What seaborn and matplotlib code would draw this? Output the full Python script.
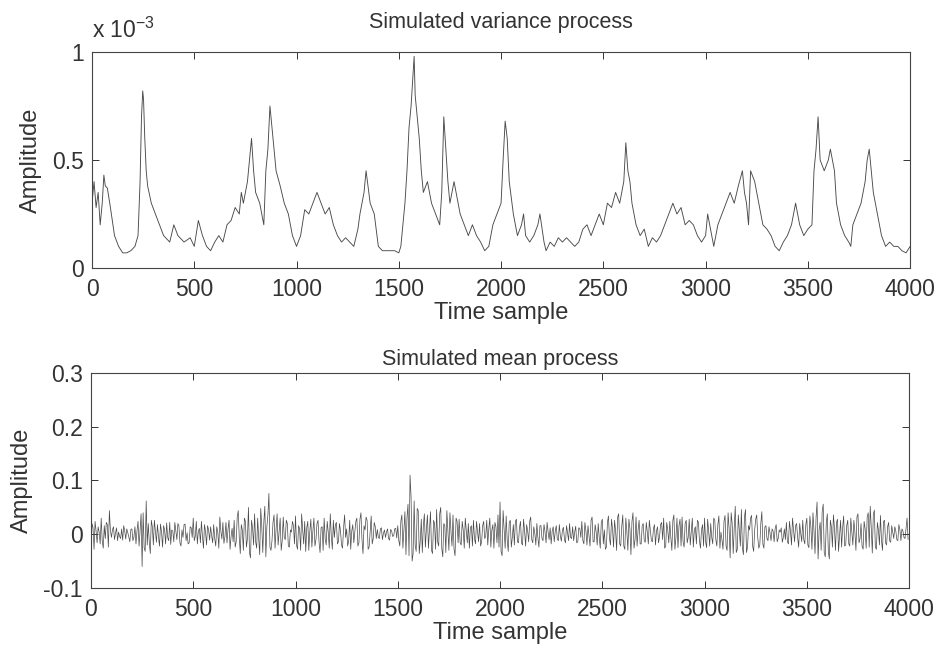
import numpy as np
import pandas as pd
import matplotlib
matplotlib.use("Agg")
import matplotlib.pyplot as plt
import seaborn as sns

# ---- variance process (units of 1e-3), key samples ----
var_t = [0, 10, 20, 30, 40, 50, 58, 65, 75, 90, 110, 130, 150, 170, 190, 210, 225, 235, 242, 248,
         252, 258, 265, 272, 290, 310, 330, 350, 380, 400, 420, 450, 480, 500, 520, 540, 560, 580,
         600, 620, 640, 660, 680, 700, 720, 730, 740, 760, 770, 780, 790, 800, 820, 840, 850, 860,
         870, 880, 890, 900, 920, 940, 960, 980, 1000, 1020, 1040, 1060, 1080, 1100, 1120, 1140,
         1160, 1180, 1200, 1220, 1240, 1260, 1280, 1300, 1310, 1330, 1340, 1360, 1380, 1400, 1420,
         1450, 1480, 1500, 1510, 1520, 1530, 1540, 1550, 1560, 1575, 1580, 1590, 1600, 1610, 1620,
         1640, 1660, 1680, 1700, 1710, 1720, 1730, 1740, 1750, 1760, 1770, 1790, 1800, 1820, 1840,
         1860, 1880, 1900, 1920, 1940, 1960, 1980, 2000, 2010, 2020, 2030, 2040, 2060, 2080, 2100,
         2110, 2120, 2140, 2160, 2180, 2190, 2210, 2220, 2240, 2260, 2280, 2300, 2320, 2340, 2360,
         2380, 2400, 2420, 2440, 2460, 2480, 2500, 2520, 2540, 2560, 2580, 2600, 2610, 2620, 2630,
         2640, 2660, 2680, 2700, 2720, 2740, 2760, 2780, 2800, 2820, 2840, 2860, 2880, 2900, 2920,
         2940, 2960, 2980, 3000, 3010, 3030, 3040, 3060, 3080, 3100, 3120, 3140, 3160, 3180, 3190,
         3200, 3210, 3220, 3240, 3260, 3280, 3300, 3320, 3340, 3360, 3380, 3400, 3420, 3440, 3460,
         3480, 3500, 3520, 3530, 3540, 3550, 3560, 3580, 3600, 3610, 3630, 3640, 3660, 3680, 3700,
         3710, 3720, 3740, 3760, 3780, 3790, 3800, 3810, 3820, 3840, 3860, 3880, 3900, 3920, 3940,
         3960, 3980, 4000]
var_e3 = [0.30, 0.40, 0.28, 0.35, 0.20, 0.30, 0.43, 0.38, 0.37, 0.28, 0.15, 0.10, 0.07, 0.07, 0.08, 0.10, 0.15, 0.40, 0.70, 0.82,
          0.78, 0.60, 0.45, 0.38, 0.30, 0.25, 0.20, 0.15, 0.12, 0.20, 0.15, 0.12, 0.14, 0.10, 0.22, 0.15, 0.10, 0.08,
          0.12, 0.15, 0.12, 0.20, 0.22, 0.28, 0.25, 0.35, 0.30, 0.40, 0.50, 0.60, 0.45, 0.35, 0.30, 0.20, 0.45, 0.55,
          0.75, 0.65, 0.55, 0.45, 0.38, 0.30, 0.25, 0.15, 0.10, 0.15, 0.27, 0.25, 0.30, 0.35, 0.30, 0.25,
          0.28, 0.20, 0.15, 0.12, 0.14, 0.12, 0.10, 0.18, 0.25, 0.35, 0.45, 0.30, 0.25, 0.10, 0.08,
          0.08, 0.08, 0.07, 0.10, 0.20, 0.30, 0.45, 0.65, 0.75, 0.98, 0.80, 0.70, 0.60, 0.45, 0.35,
          0.40, 0.30, 0.25, 0.20, 0.35, 0.70, 0.55, 0.40, 0.30, 0.35, 0.40, 0.30, 0.25, 0.20, 0.15,
          0.20, 0.15, 0.12, 0.08, 0.10, 0.20, 0.25, 0.30, 0.50, 0.68, 0.60, 0.40, 0.25, 0.15, 0.20,
          0.25, 0.15, 0.12, 0.15, 0.20, 0.25, 0.12, 0.08, 0.12, 0.10, 0.14, 0.12, 0.14, 0.12, 0.10,
          0.12, 0.18, 0.20, 0.15, 0.20, 0.25, 0.20, 0.30, 0.28, 0.35, 0.30, 0.40, 0.58, 0.45, 0.40,
          0.30, 0.20, 0.15, 0.18, 0.10, 0.14, 0.12, 0.15, 0.20, 0.25, 0.30, 0.25, 0.28, 0.20, 0.22,
          0.20, 0.15, 0.12, 0.15, 0.25, 0.15, 0.10, 0.20, 0.25, 0.30, 0.35, 0.30, 0.38, 0.45, 0.35,
          0.30, 0.20, 0.45, 0.40, 0.30, 0.20, 0.18, 0.15, 0.10, 0.08, 0.12, 0.15, 0.20, 0.30, 0.20,
          0.15, 0.18, 0.20, 0.45, 0.55, 0.70, 0.50, 0.45, 0.50, 0.55, 0.45, 0.30, 0.20, 0.15, 0.12,
          0.10, 0.20, 0.25, 0.30, 0.40, 0.50, 0.55, 0.45, 0.35, 0.25, 0.15, 0.10, 0.12, 0.10, 0.10,
          0.08, 0.07, 0.10]

# ---- mean process (units of 0.01) ----
# values at samples 0, 10, 20, ...
mean_c = [
    -3.4, 1.2, 2.4, -1.6, 0.4, 3.0, -2.6, -0.8, 1.8, 4.4,
    -0.6, 1.4, 0.2, -1.2, -0.4, 1.0, 1.6, -0.9, 0.3, -1.4,
    1.0, -0.5, -1.8, 2.4, 0.6, -6.0, -2.5, 6.2, 2.0, -3.6,
    1.4, 2.6, -1.5, -0.4, 1.9, -2.4, 0.8, 2.1, -1.2, -1.9,
    0.6, 2.2, -1.0, 1.5, -2.2, -0.6, 1.9, 0.3, -1.6, 1.2,
    3.0, -0.4, -1.8, 1.1, 2.4, -2.6, 0.5, 1.6, -1.1, -0.3,
    1.8, -2.2, 0.4, 3.2, -0.9, -1.7, 2.2, 0.9, -2.8, 1.1,
    2.6, -1.4, 4.4, -3.6, 0.8, 3.0, -2.4, 5.0, -4.4, 1.2,
    3.8, -2.6, -0.8, 4.8, -3.4, 5.2, 1.4, 7.6, -3.0, 2.2,
    -2.6, 3.8, 0.6, -3.0, 3.2, -1.0, 2.0, -2.4, 0.4, 1.6,
    3.4, -2.8, 1.0, 3.8, -1.8, -3.2, 2.4, 0.6, -2.4, 3.0,
    -1.0, 2.6, -3.4, 1.4, 3.0, -2.0, 0.4, 3.8, -2.8, -0.6,
    2.2, -1.4, 0.6, -2.6, 3.6, 1.0, -1.2, -2.8, 1.8, 0.4,
    3.0, -1.6, 4.0, -3.6, 0.8, 2.6, -2.4, 3.4, -0.8, 1.4,
    0.9, -0.8, 1.2, 0.2, -0.6, 1.0, -1.1, 0.6, -0.3, 1.1,
    1.6, -2.2, 3.6, 0.8, -3.8, 5.6, 11.0, -5.0, 6.2, -3.2,
    4.4, -1.2, -3.4, 3.8, 1.0, -2.6, 4.2, -3.6, 2.0, 4.6,
    -2.2, 5.0, -4.2, 1.6, 4.4, -3.0, 0.6, 3.6, -4.0, 2.4,
    2.8, -2.0, 0.8, 3.0, -1.6, -2.6, 1.6, 2.6, -1.8, 0.4,
    2.0, -1.4, 2.4, -0.4, -2.0, 3.0, 0.8, -2.6, 1.4, 3.6,
    6.0, -4.0, 1.0, 3.4, -3.2, 2.6, -0.6, -2.0, 2.8, -1.6,
    2.4, -2.0, 0.6, 1.8, -1.4, 3.2, -1.6, 0.2, 2.0, -2.4,
    1.6, -1.2, 0.4, 2.2, -1.0, -1.8, 1.4, 0.6, -0.9, 1.8,
    -1.3, 1.3, -1.6, 0.3, 2.0, -0.8, -1.2, 1.5, -1.4, 1.1,
    2.4, -1.8, 0.6, 1.6, -2.2, 3.2, -1.4, 0.4, 2.0, -2.6,
    2.8, 0.8, -2.4, 3.4, -2.0, 1.0, 2.6, -3.0, 3.8, -2.2,
    3.6, -2.8, 0.6, 2.8, -3.8, 4.0, -1.0, -2.2, 2.6, -1.8,
    2.0, -1.5, 0.4, 2.6, -1.2, 1.0, -2.0, 1.4, -0.4, 2.2,
    3.0, -2.2, 0.8, 2.4, -3.0, 3.6, -0.6, -2.5, 2.8, 3.2,
    -2.4, 2.6, -0.6, -2.0, 3.0, 0.8, -1.8, 2.2, -2.6, 1.8,
    3.0, -2.5, 0.6, 2.0, -1.8, 2.6, -2.2, 3.4, 0.4, -2.8,
    3.5, -3.0, 1.0, 4.0, -3.6, 5.2, -2.8, 0.6, 4.6, -3.8,
    4.6, -2.4, 0.8, 3.5, -3.2, 2.8, -0.6, -2.0, 4.2, -2.6,
    1.6, -1.2, 0.2, 1.0, -1.4, 1.8, -0.8, 0.4, -1.5, 1.0,
    2.2, -1.8, 0.6, 3.0, -1.4, 2.0, -2.4, 0.2, 2.6, -1.8,
    3.0, -2.5, 1.2, 4.0, -3.6, 6.0, 0.8, -3.0, 5.6, -4.2,
    3.8, -4.6, 1.4, 3.6, -3.0, 2.8, -0.4, -2.4, 3.4, -2.0,
    2.6, -2.2, 0.6, 2.6, -3.0, 3.8, -0.8, -2.2, 2.4, -2.6,
    4.0, 5.2, -3.5, 4.5, -2.8, 0.8, 3.5, -3.0, 2.6, -2.0,
    2.2, -1.5, 0.4, 1.4, -1.0, 1.8, -1.2, 0.6, -0.8, 3.0,
]
# values at samples 5, 15, 25, ...
mean_c_mid = [
    2.0, -2.8, 0.6, 1.4, -1.8, -1.2, 1.6, 2.2, -2.4, 0.8,
    0.8, -1.0, 1.2, 0.4, -0.8, -1.1, 0.6, 1.0, -0.5, 0.9,
    -1.2, 1.4, 0.6, -2.2, 3.8, 4.0, -3.2, -2.0, -1.4, 2.6,
    -2.0, 0.6, 1.8, -2.2, 0.4, 1.6, -1.8, -0.6, 2.2, 0.8,
    -1.4, 0.6, 2.0, -1.6, 0.8, 1.8, -1.2, -1.8, 1.4, -0.6,
    -1.2, 2.4, 0.6, -1.6, -0.4, 1.8, -2.0, 0.8, 1.4, -1.6,
    -0.8, 1.4, -2.6, 0.6, 2.2, -0.4, -1.6, 2.6, -0.4, -1.4,
    -2.4, 3.2, -0.6, 1.8, -3.0, 2.4, -0.8, -3.4, 2.6, -2.0,
    -1.4, 3.0, -3.8, 1.6, 2.2, -4.2, 3.6, -2.4, -1.2, 3.6,
    1.0, -2.0, 3.0, -1.2, -0.6, 2.6, -2.2, 0.8, 2.4, -1.8,
    -2.0, 1.6, -3.0, 0.8, 2.4, 1.2, -3.0, 2.8, 0.6, -2.2,
    2.0, -1.4, 1.2, -3.0, -0.8, 2.4, -2.6, -0.4, 2.6, 1.8,
    -1.8, 2.0, -2.0, 1.2, -0.6, -2.2, 2.6, 0.6, -1.6, 2.4,
    -2.2, 2.8, -1.0, 1.6, 3.2, -2.8, 0.6, -1.8, 2.2, -0.8,
    -0.6, 1.0, -1.0, 0.8, 0.4, -0.8, 0.9, -0.4, 1.0, -0.7,
    -1.2, 2.4, -2.6, 4.2, 3.0, -4.0, 7.0, -3.6, -2.0, 4.8,
    -3.6, 2.8, 1.6, -2.4, 3.6, 0.8, -3.0, 2.6, -2.8, -1.4,
    3.8, -2.6, 2.0, -3.4, 0.6, 4.0, -2.2, -2.8, 3.0, -1.6,
    -1.6, 2.4, -2.6, 0.6, 2.0, 1.2, -2.2, -0.8, 2.4, -1.4,
    -2.2, 1.6, -0.8, 2.6, 1.0, -2.4, 1.8, 2.2, -1.6, -2.4,
    -3.2, 4.4, -2.6, -1.0, 2.2, -2.4, 1.8, 2.4, -1.4, 1.2,
    -1.6, 2.8, -2.2, 0.6, 2.4, -1.0, 1.4, -2.0, -0.6, 1.6,
    -0.8, 1.8, -1.6, 0.4, 1.2, 0.6, -1.4, 1.6, -1.2, -0.4,
    0.8, -1.0, 1.6, -1.2, -0.6, 1.4, 0.4, -1.6, 1.2, -0.6,
    -1.2, 2.2, -2.0, -0.4, 2.6, -1.4, 1.8, -2.0, -0.6, 2.2,
    -1.8, -2.8, 2.2, -0.8, 2.8, -2.4, 0.6, 3.2, -1.8, 1.4,
    -2.2, 3.0, -3.0, 1.0, 2.4, -2.6, 3.2, 0.8, -1.8, 1.6,
    -1.2, 2.2, -1.8, 0.6, -1.4, 1.8, 0.6, -1.6, 1.8, -1.0,
    -2.6, 2.2, -1.6, -0.6, 2.6, -2.8, 3.0, 1.6, -2.2, -1.4,
    2.0, -1.6, 2.8, 0.6, -2.4, 1.4, 2.6, -1.2, 0.8, -2.2,
    -1.4, 2.8, -2.2, -0.6, 3.0, -1.0, 1.8, -2.6, -1.0, 2.4,
    -2.2, 4.0, -4.4, 2.0, 1.2, -3.4, 3.6, -2.2, -2.6, 3.2,
    -3.4, 1.6, 3.0, -2.2, 0.8, 3.6, -2.6, 2.0, -1.8, 1.4,
    -0.8, 1.4, -1.2, 0.6, 1.0, -1.4, 0.8, 1.2, -0.6, -1.0,
    -1.4, 2.4, -2.0, 0.8, 1.6, -0.6, 2.0, -1.4, -1.0, 1.8,
    -2.0, 3.4, -2.8, 0.6, 3.0, -4.6, 2.2, 4.2, -3.4, 2.0,
    -3.2, 2.6, -2.4, 1.2, 2.2, -3.2, 2.6, 1.2, -2.2, 1.6,
    -1.8, 3.0, -2.0, 0.4, 3.2, -1.6, 2.0, -2.8, 1.0, 3.2,
    -2.4, 1.2, 3.6, -2.4, 2.2, -2.0, -1.2, 2.4, -1.6, 1.4,
    -1.2, 1.6, -0.8, 0.6, -1.2, 0.8, 1.0, -0.6, 1.2, -1.0,
]

x_ticks = [0, 500, 1000, 1500, 2000, 2500, 3000, 3500, 4000]
var_yticks = [0, 0.5, 1]
mean_yticks = [-0.1, 0, 0.1, 0.2, 0.3]

df_var = pd.DataFrame({"t": var_t, "v": var_e3})
df_mean = pd.concat([
    pd.DataFrame({"t": np.arange(len(mean_c)) * 10, "m": np.array(mean_c) / 100.0}),
    pd.DataFrame({"t": np.arange(len(mean_c_mid)) * 10 + 5, "m": np.array(mean_c_mid) / 100.0}),
]).sort_values("t").reset_index(drop=True)

sns.set_style("ticks")
plt.rcParams["font.family"] = ["Liberation Sans", "DejaVu Sans"]
plt.rcParams["xtick.direction"] = "in"
plt.rcParams["ytick.direction"] = "in"
plt.rcParams["xtick.top"] = True
plt.rcParams["ytick.right"] = True

fig = plt.figure(figsize=(9.35, 6.47), dpi=100)
ax1 = fig.add_axes([0.0984, 0.5858, 0.875, 0.3338])
ax2 = fig.add_axes([0.0973, 0.0912, 0.875, 0.3323])

txt_col = "#333333"
sns.lineplot(data=df_var, x="t", y="v", ax=ax1, color="#4a4a4a", linewidth=0.65)
sns.lineplot(data=df_mean, x="t", y="m", ax=ax2, color="#4a4a4a", linewidth=0.5)

for ax, yt, ylim in [(ax1, var_yticks, (0, 1)), (ax2, mean_yticks, (-0.1, 0.3))]:
    ax.set_xlim(0, 4000)
    ax.set_ylim(*ylim)
    ax.set_xticks(x_ticks)
    ax.set_yticks(yt)
    ax.set_yticklabels([f"{v:g}" for v in yt])
    ax.tick_params(labelsize=16.5, length=5, width=0.7, colors=txt_col)
    ax.tick_params(axis="x", pad=7)
    ax.tick_params(axis="y", pad=6)
    for s in ax.spines.values():
        s.set_color("#444444")
        s.set_linewidth(0.8)
    ax.set_xlabel("Time sample", fontsize=17, color=txt_col, labelpad=1)
    ax.set_ylabel("Amplitude", fontsize=17, color=txt_col, labelpad=7)

ax1.set_title("Simulated variance process", fontsize=15.5, color=txt_col, pad=17)
ax2.set_title("Simulated mean process", fontsize=15.5, color=txt_col, pad=6)
ax1.text(0.0, 1.04, r"x 10$^{\mathregular{-3}}$", transform=ax1.transAxes,
         fontsize=16.5, color=txt_col, ha="left", va="bottom")

fig.savefig("out.png", dpi=100)
